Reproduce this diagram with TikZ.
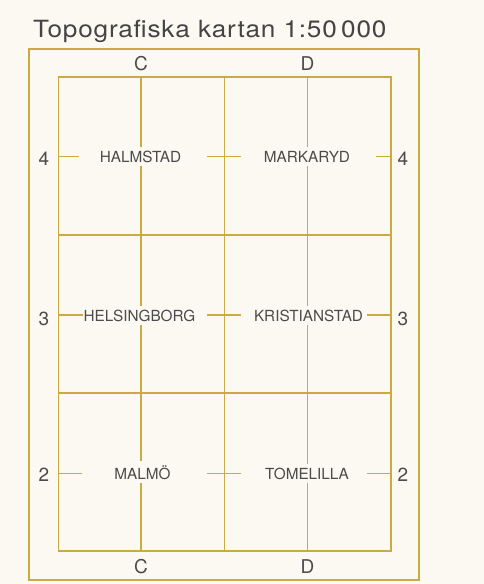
\documentclass[tikz,border=0pt]{standalone}
\usepackage{fontspec}
\setmainfont{TeX Gyre Heros}
\usepackage{tikz}

\definecolor{paper}{HTML}{FBF9F1}
\definecolor{gridgold}{HTML}{C9AA45}
\definecolor{inkgray}{HTML}{4B4B4B}

\begin{document}
\begin{tikzpicture}[x=1pt, y=-1pt,
    grid/.style={gridgold, line width=1.4pt},
    sheetname/.style={fill=paper, inner sep=4pt, anchor=base, text=inkgray,
        font=\fontsize{15.3}{17}\selectfont},
    edgelabel/.style={inner sep=0pt, anchor=base, text=inkgray,
        font=\fontsize{19}{22}\selectfont}]

    % Paper
    \fill[paper] (0,0) rectangle (484,584);
    \useasboundingbox (0,0) rectangle (484,584);

    % Title
    \node[anchor=base west, inner sep=0pt, text=inkgray!90!black,
        font=\fontsize{23.7}{28}\selectfont\addfontfeature{LetterSpace=3}]
        (title) at (33,37.3) {\scalebox{1.105}[1]{Topografiska kartan 1:50\,000}};

    % Outer frame and sheet grid
    \draw[grid] (29,49) rectangle (419,580);
    \draw[grid] (58.5,77) rectangle (391,551);
    \foreach \y in {235,393}
        \draw[grid] (58.5,\y) -- (391,\y);
    \foreach \x in {141,224.5,307.5}
        \draw[grid] (\x,77) -- (\x,551);

    % Column letters
    \node[edgelabel] (colCtop) at (141,70) {C};
    \node[edgelabel] (colDtop) at (307.5,70) {D};
    \node[edgelabel] (colCbot) at (141,573) {C};
    \node[edgelabel] (colDbot) at (307.5,573) {D};

    % Row numbers
    \node[edgelabel] (row4l) at (44,165) {4};
    \node[edgelabel] (row4r) at (403,165) {4};
    \node[edgelabel] (row3l) at (44,325) {3};
    \node[edgelabel] (row3r) at (403,325) {3};
    \node[edgelabel] (row2l) at (44,481.5) {2};
    \node[edgelabel] (row2r) at (403,481.5) {2};

    % Sheet names
    \node[sheetname] (halmstad) at (140.5,162) {HALMSTAD};
    \node[sheetname] (markaryd) at (307,162) {MARKARYD};
    \node[sheetname] (helsingborg) at (139.5,321) {HELSINGBORG};
    \node[sheetname] (kristianstad) at (308.5,321) {KRISTIANSTAD};
    \node[sheetname] (malmo) at (142.5,479) {MALMÖ};
    \node[sheetname] (tomelilla) at (307,479) {TOMELILLA};

    % Row ticks
    \foreach \y/\l/\r in {156.5/79/376, 315/83/367, 473.5/82/367} {
        \draw[grid] (58.5,\y) -- (\l,\y);
        \draw[grid] (207,\y) -- (241,\y);
        \draw[grid] (\r,\y) -- (391,\y);
    }

\end{tikzpicture}
\end{document}
